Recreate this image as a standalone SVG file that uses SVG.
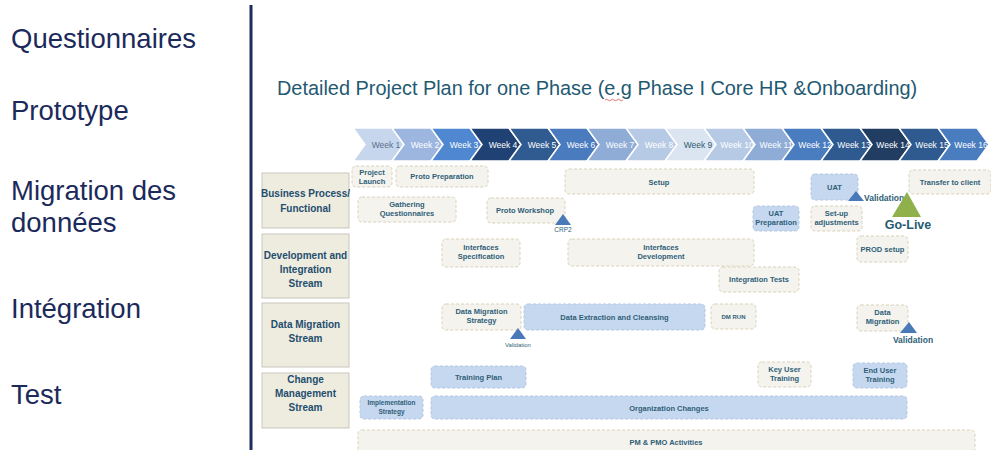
<svg xmlns="http://www.w3.org/2000/svg" width="991" height="450" viewBox="0 0 991 450">
<style>
.side{font-family:"Liberation Sans",Arial,sans-serif;font-size:27.5px;fill:#1b2a5a}
.title{font-family:"Liberation Sans",Arial,sans-serif;font-size:19.9px;fill:#1f5a72}
.wk{font-family:"Liberation Sans",Arial,sans-serif;font-size:8.5px;fill:#ffffff;text-anchor:middle}
.hdr{fill:#eeebdf;stroke:#c9c7bd;stroke-width:1}
.hdrt{font-family:"Liberation Sans",Arial,sans-serif;font-size:10px;font-weight:bold;fill:#1f4e6e;text-anchor:middle}
.task{fill:#f4f3ee;stroke:#d9d3b9;stroke-width:1;stroke-dasharray:3 2}
.btask{fill:#c6d8ef;stroke:#b3c7e2;stroke-width:1;stroke-dasharray:3 2}
.tt{font-family:"Liberation Sans",Arial,sans-serif;font-size:7.5px;font-weight:bold;fill:#2f5f78;text-anchor:middle}
.tri{fill:#4a79b8}
.val{font-family:"Liberation Sans",Arial,sans-serif;font-size:8.5px;font-weight:bold;fill:#2f5f78}
.chev{stroke:#ffffff;stroke-width:1.5}
</style>
<rect width="991" height="450" fill="#ffffff"/>
<g id="side">
<text class="side" x="11" y="48">Questionnaires</text>
<text class="side" x="11" y="120">Prototype</text>
<text class="side" x="11" y="200">Migration des</text>
<text class="side" x="11" y="232">données</text>
<text class="side" x="11" y="318">Intégration</text>
<text class="side" x="11" y="404">Test</text>
<line x1="251" y1="5" x2="251" y2="450" stroke="#1f2d5c" stroke-width="3"/>
</g>
<g id="title">
<text class="title" x="277" y="95">Detailed Project Plan for one Phase (e.g Phase I Core HR &amp;Onboarding)</text>
<path d="M605 100 q1.5 -1.5 3 0 t3 0 t3 0 t3 0 t3 0 t3 0" fill="none" stroke="#e05050" stroke-width="0.8"/>
</g>
<g id="timeline">
<polygon class="chev" fill="#c6d6ec" points="353,128 392,128 404,144.5 392,161 353,161 365,144.5"/>
<polygon class="chev" fill="#9cb6df" points="392,128 431,128 443,144.5 431,161 392,161 404,144.5"/>
<polygon class="chev" fill="#4f88d0" points="431,128 470,128 482,144.5 470,161 431,161 443,144.5"/>
<polygon class="chev" fill="#1f4173" points="470,128 509,128 521,144.5 509,161 470,161 482,144.5"/>
<polygon class="chev" fill="#305b90" points="509,128 548,128 560,144.5 548,161 509,161 521,144.5"/>
<polygon class="chev" fill="#4a7bbe" points="548,128 587,128 599,144.5 587,161 548,161 560,144.5"/>
<polygon class="chev" fill="#8eacd6" points="587,128 626,128 638,144.5 626,161 587,161 599,144.5"/>
<polygon class="chev" fill="#b7cae5" points="626,128 665,128 677,144.5 665,161 626,161 638,144.5"/>
<polygon class="chev" fill="#dbe4f1" points="665,128 704,128 716,144.5 704,161 665,161 677,144.5"/>
<polygon class="chev" fill="#b7cae5" points="704,128 743,128 755,144.5 743,161 704,161 716,144.5"/>
<polygon class="chev" fill="#8eacd6" points="743,128 782,128 794,144.5 782,161 743,161 755,144.5"/>
<polygon class="chev" fill="#4a7cc0" points="782,128 821,128 833,144.5 821,161 782,161 794,144.5"/>
<polygon class="chev" fill="#2f5a8f" points="821,128 860,128 872,144.5 860,161 821,161 833,144.5"/>
<polygon class="chev" fill="#213d62" points="860,128 899,128 911,144.5 899,161 860,161 872,144.5"/>
<polygon class="chev" fill="#2f5a8f" points="899,128 938,128 950,144.5 938,161 899,161 911,144.5"/>
<polygon class="chev" fill="#4a7cc0" points="938,128 977,128 989,144.5 977,161 938,161 950,144.5"/>
<text class="wk" x="386" y="147.5" style="fill:#5a6f8c">Week 1</text>
<text class="wk" x="425" y="147.5">Week 2</text>
<text class="wk" x="464" y="147.5">Week 3</text>
<text class="wk" x="503" y="147.5">Week 4</text>
<text class="wk" x="542" y="147.5">Week 5</text>
<text class="wk" x="581" y="147.5">Week 6</text>
<text class="wk" x="620" y="147.5">Week 7</text>
<text class="wk" x="659" y="147.5">Week 8</text>
<text class="wk" x="698" y="147.5" style="fill:#2c5c6e">Week 9</text>
<text class="wk" x="737" y="147.5">Week 10</text>
<text class="wk" x="776" y="147.5">Week 11</text>
<text class="wk" x="815" y="147.5">Week 12</text>
<text class="wk" x="854" y="147.5">Week 13</text>
<text class="wk" x="893" y="147.5">Week 14</text>
<text class="wk" x="932" y="147.5">Week 15</text>
<text class="wk" x="971" y="147.5">Week 16</text>
</g>
<g id="hdr-business">
<rect class="hdr" x="262" y="173" width="87" height="55"/>
<text class="hdrt" x="305.5" y="197">Business Process/</text>
<text class="hdrt" x="305.5" y="212">Functional</text>
</g>
<g id="hdr-dev">
<rect class="hdr" x="262" y="234" width="87" height="64"/>
<text class="hdrt" x="305.5" y="259">Development and</text>
<text class="hdrt" x="305.5" y="273">Integration</text>
<text class="hdrt" x="305.5" y="287">Stream</text>
</g>
<g id="hdr-dm">
<rect class="hdr" x="262" y="303" width="87" height="64"/>
<text class="hdrt" x="305.5" y="328">Data Migration</text>
<text class="hdrt" x="305.5" y="342">Stream</text>
</g>
<g id="hdr-cm">
<rect class="hdr" x="262" y="373" width="87" height="55"/>
<text class="hdrt" x="305.5" y="383">Change</text>
<text class="hdrt" x="305.5" y="397">Management</text>
<text class="hdrt" x="305.5" y="411">Stream</text>
</g>
<g id="project-launch">
<rect class="task" x="352" y="166" width="40" height="21" rx="4"/>
<text class="tt" x="372" y="175">Project</text>
<text class="tt" x="372" y="184">Launch</text>
</g>
<g id="proto-preparation">
<rect class="task" x="396" y="166" width="92" height="21" rx="4"/>
<text class="tt" x="442" y="179">Proto Preparation</text>
</g>
<g id="gathering">
<rect class="task" x="358" y="197" width="98" height="25" rx="4"/>
<text class="tt" x="407" y="207">Gathering</text>
<text class="tt" x="407" y="216">Questionnaires</text>
</g>
<g id="setup">
<rect class="task" x="565" y="169" width="189" height="25" rx="4"/>
<text class="tt" x="659" y="185">Setup</text>
</g>
<g id="proto-workshop">
<rect class="task" x="487" y="198" width="78" height="25" rx="4"/>
<text class="tt" x="525" y="213">Proto Workshop</text>
</g>
<g id="crp2">
<polygon class="tri" points="563,214 571,225 555,225"/>
<text x="563" y="232" style="font-family:'Liberation Sans',Arial,sans-serif;font-size:6.5px;fill:#2f5f78;text-anchor:middle">CRP2</text>
</g>
<g id="uat">
<rect class="btask" x="811" y="174" width="47" height="26" rx="4"/>
<text class="tt" x="834.5" y="189.5">UAT</text>
</g>
<g id="uat-validation">
<polygon class="tri" points="856,191 864,201 848,201"/>
<text class="val" x="864" y="200.5">Validation</text>
</g>
<g id="go-live">
<polygon fill="#8fb04a" points="907,192 921,217 892,217"/>
<text x="908" y="228.5" style="font-family:'Liberation Sans',Arial,sans-serif;font-size:12.5px;font-weight:bold;fill:#1f5c73;text-anchor:middle">Go-Live</text>
</g>
<g id="transfer">
<rect class="task" x="909" y="170" width="82" height="24" rx="4"/>
<text class="tt" x="950" y="185">Transfer to client</text>
</g>
<g id="uat-preparation">
<rect class="btask" x="753" y="206" width="46" height="25" rx="4"/>
<text class="tt" x="776" y="216">UAT</text>
<text class="tt" x="776" y="225">Preparation</text>
</g>
<g id="setup-adjustments">
<rect class="task" x="811" y="206" width="51" height="25" rx="4"/>
<text class="tt" x="836.5" y="216">Set-up</text>
<text class="tt" x="836.5" y="225">adjustments</text>
</g>
<g id="interfaces-spec">
<rect class="task" x="442" y="239" width="78" height="28" rx="4"/>
<text class="tt" x="481" y="250">Interfaces</text>
<text class="tt" x="481" y="259">Specification</text>
</g>
<g id="interfaces-dev">
<rect class="task" x="568" y="239" width="186" height="27" rx="4"/>
<text class="tt" x="661" y="250">Interfaces</text>
<text class="tt" x="661" y="259">Development</text>
</g>
<g id="integration-tests">
<rect class="task" x="719" y="267" width="80" height="25" rx="4"/>
<text class="tt" x="759" y="282">Integration Tests</text>
</g>
<g id="prod-setup">
<rect class="task" x="857" y="236" width="51" height="26" rx="4"/>
<text class="tt" x="882.5" y="251.5">PROD setup</text>
</g>
<g id="dm-strategy">
<rect class="task" x="442" y="304" width="79" height="26" rx="4"/>
<text class="tt" x="481.5" y="314">Data Migration</text>
<text class="tt" x="481.5" y="323">Strategy</text>
</g>
<g id="dm-validation">
<polygon class="tri" points="518,328 526,339 510,339"/>
<text x="518" y="347" style="font-family:'Liberation Sans',Arial,sans-serif;font-size:6px;fill:#2f5f78;text-anchor:middle">Validation</text>
</g>
<g id="extraction">
<rect class="btask" x="524" y="304" width="181" height="26" rx="4"/>
<text class="tt" x="614.5" y="319.5">Data Extraction and Cleansing</text>
</g>
<g id="dm-run">
<rect class="task" x="711" y="304" width="45" height="25" rx="4"/>
<text class="tt" x="733.5" y="319" style="font-size:6px">DM RUN</text>
</g>
<g id="data-migration">
<rect class="task" x="857" y="305" width="51" height="26" rx="4"/>
<text class="tt" x="882.5" y="315">Data</text>
<text class="tt" x="882.5" y="324">Migration</text>
</g>
<g id="final-validation">
<polygon class="tri" points="909,322 917,333 900,333"/>
<text class="val" x="913" y="343" style="text-anchor:middle">Validation</text>
</g>
<g id="training-plan">
<rect class="btask" x="431" y="366" width="95" height="22" rx="4"/>
<text class="tt" x="478.5" y="380">Training Plan</text>
</g>
<g id="key-user">
<rect class="task" x="758" y="362" width="53" height="25" rx="4"/>
<text class="tt" x="784.5" y="372">Key User</text>
<text class="tt" x="784.5" y="381">Training</text>
</g>
<g id="end-user">
<rect class="btask" x="853" y="363" width="54" height="25" rx="4"/>
<text class="tt" x="880" y="373">End User</text>
<text class="tt" x="880" y="382">Training</text>
</g>
<g id="impl-strategy">
<rect class="btask" x="360" y="396" width="63" height="23" rx="4"/>
<text class="tt" x="391.5" y="405" style="font-size:6.5px">Implementation</text>
<text class="tt" x="391.5" y="414" style="font-size:6.5px">Strategy</text>
</g>
<g id="org-changes">
<rect class="btask" x="431" y="396" width="476" height="23" rx="4"/>
<text class="tt" x="669" y="410.5">Organization Changes</text>
</g>
<g id="pmo">
<rect class="task" x="358" y="430" width="617" height="30" rx="4"/>
<text class="tt" x="666" y="445">PM &amp; PMO Activities</text>
</g>
<g id="connectors"/>
</svg>
